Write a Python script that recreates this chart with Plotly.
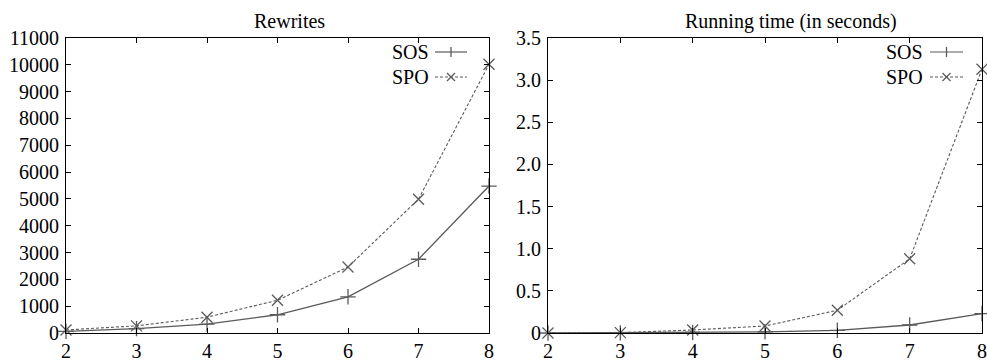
import plotly.graph_objects as go

# ---- data ----
x_vals = [2, 3, 4, 5, 6, 7, 8]
rewrites_sos = [60, 165, 330, 680, 1350, 2750, 5480]
rewrites_spo = [115, 265, 590, 1220, 2460, 4990, 10020]
time_sos = [0.0, 0.002, 0.006, 0.013, 0.032, 0.095, 0.23]
time_spo = [0.0, 0.004, 0.036, 0.083, 0.27, 0.88, 3.13]

y1_ticks = [0, 1000, 2000, 3000, 4000, 5000, 6000, 7000, 8000, 9000, 10000, 11000]
y1_text = [str(v) for v in y1_ticks]
y2_ticks = [0, 0.5, 1.0, 1.5, 2.0, 2.5, 3.0, 3.5]
y2_text = ["0", "0.5", "1.0", "1.5", "2.0", "2.5", "3.0", "3.5"]
x_ticks = [2, 3, 4, 5, 6, 7, 8]

series_names = ["SOS", "SPO"]
titles = ["Rewrites", "Running time (in seconds)"]

W, H = 987, 361
ML, MR, MT, MB = 66, 5, 38, 28
PW = W - ML - MR
PH = H - MT - MB


def px(x):
    return (x - ML) / PW


def py(y):
    return 1 - (y - MT) / PH


LINE_COLOR = "#5a5a5a"
FONT = "Liberation Serif, Times New Roman, serif"

fig = go.Figure()

for (ax, ay, sos, spo) in [("x", "y", rewrites_sos, rewrites_spo),
                           ("x2", "y2", time_sos, time_spo)]:
    fig.add_trace(go.Scatter(
        x=x_vals, y=sos, xaxis=ax, yaxis=ay, mode="lines+markers",
        line=dict(color=LINE_COLOR, width=1.3),
        marker=dict(symbol="cross-thin", size=11,
                    line=dict(color=LINE_COLOR, width=1.3)),
        cliponaxis=False, showlegend=False, name=series_names[0]))
    fig.add_trace(go.Scatter(
        x=x_vals, y=spo, xaxis=ax, yaxis=ay, mode="lines+markers",
        line=dict(color=LINE_COLOR, width=1.1, dash="3px,2px"),
        marker=dict(symbol="x-thin", size=11,
                    line=dict(color=LINE_COLOR, width=1.3)),
        cliponaxis=False, showlegend=False, name=series_names[1]))

axis_common = dict(showline=True, linecolor="black", linewidth=1.2,
                   mirror="ticks", ticks="inside", ticklen=5,
                   tickcolor="black", showgrid=False, zeroline=False,
                   automargin=False,
                   tickfont=dict(family=FONT, size=20, color="black"))

fig.update_layout(
    width=W, height=H,
    margin=dict(l=ML, r=MR, t=MT, b=MB, autoexpand=False),
    paper_bgcolor="white", plot_bgcolor="white",
    font=dict(family=FONT, size=20, color="black"),
    xaxis=dict(domain=[0, px(489)], range=[2, 8], tickvals=x_ticks,
               ticklabelstandoff=0, anchor="y", **axis_common),
    yaxis=dict(domain=[0, 1], range=[0, 11000], tickvals=y1_ticks,
               ticktext=y1_text, anchor="x", ticklabelstandoff=2, **axis_common),
    xaxis2=dict(domain=[px(548), 1], range=[2, 8], tickvals=x_ticks,
                ticklabelstandoff=0, anchor="y2", **axis_common),
    yaxis2=dict(domain=[0, 1], range=[0, 3.5], tickvals=y2_ticks,
                ticktext=y2_text, anchor="x2", ticklabelstandoff=2, **axis_common),
    showlegend=False,
)

annotations = []
shapes = []
# titles
for t, cx in zip(titles, [289, 791]):
    annotations.append(dict(text=t, x=px(cx), y=py(21), xref="paper", yref="paper",
                            xanchor="center", yanchor="middle", showarrow=False,
                            font=dict(family=FONT, size=20, color="black")))

# gnuplot-style legends (text then sample)
for text_right, line_l, line_r in [(431, 435, 467), (925, 930, 963)]:
    for i, (name, yy) in enumerate(zip(series_names, [52, 77])):
        annotations.append(dict(text=name, x=px(text_right), y=py(yy), xref="paper",
                                yref="paper", xanchor="right", yanchor="middle",
                                showarrow=False,
                                font=dict(family=FONT, size=20, color="black")))
        dash = "solid" if i == 0 else "3px,2px"
        shapes.append(dict(type="line", xref="paper", yref="paper",
                           x0=px(line_l), x1=px(line_r), y0=py(yy), y1=py(yy),
                           line=dict(color=LINE_COLOR, width=1.2, dash=dash)))
        mx = (line_l + line_r) / 2
        if i == 0:
            shapes.append(dict(type="line", xref="paper", yref="paper",
                               x0=px(mx), x1=px(mx), y0=py(yy - 5), y1=py(yy + 5),
                               line=dict(color=LINE_COLOR, width=1.3)))
        else:
            for d in (1, -1):
                shapes.append(dict(type="line", xref="paper", yref="paper",
                                   x0=px(mx - 4), x1=px(mx + 4),
                                   y0=py(yy - 4 * d), y1=py(yy + 4 * d),
                                   line=dict(color=LINE_COLOR, width=1.3)))

fig.update_layout(annotations=annotations, shapes=shapes)
fig.write_html("out.html",
               config={"displayModeBar": False},
               post_script="document.body.style.margin='0';"
                           "document.body.style.overflow='hidden';")
